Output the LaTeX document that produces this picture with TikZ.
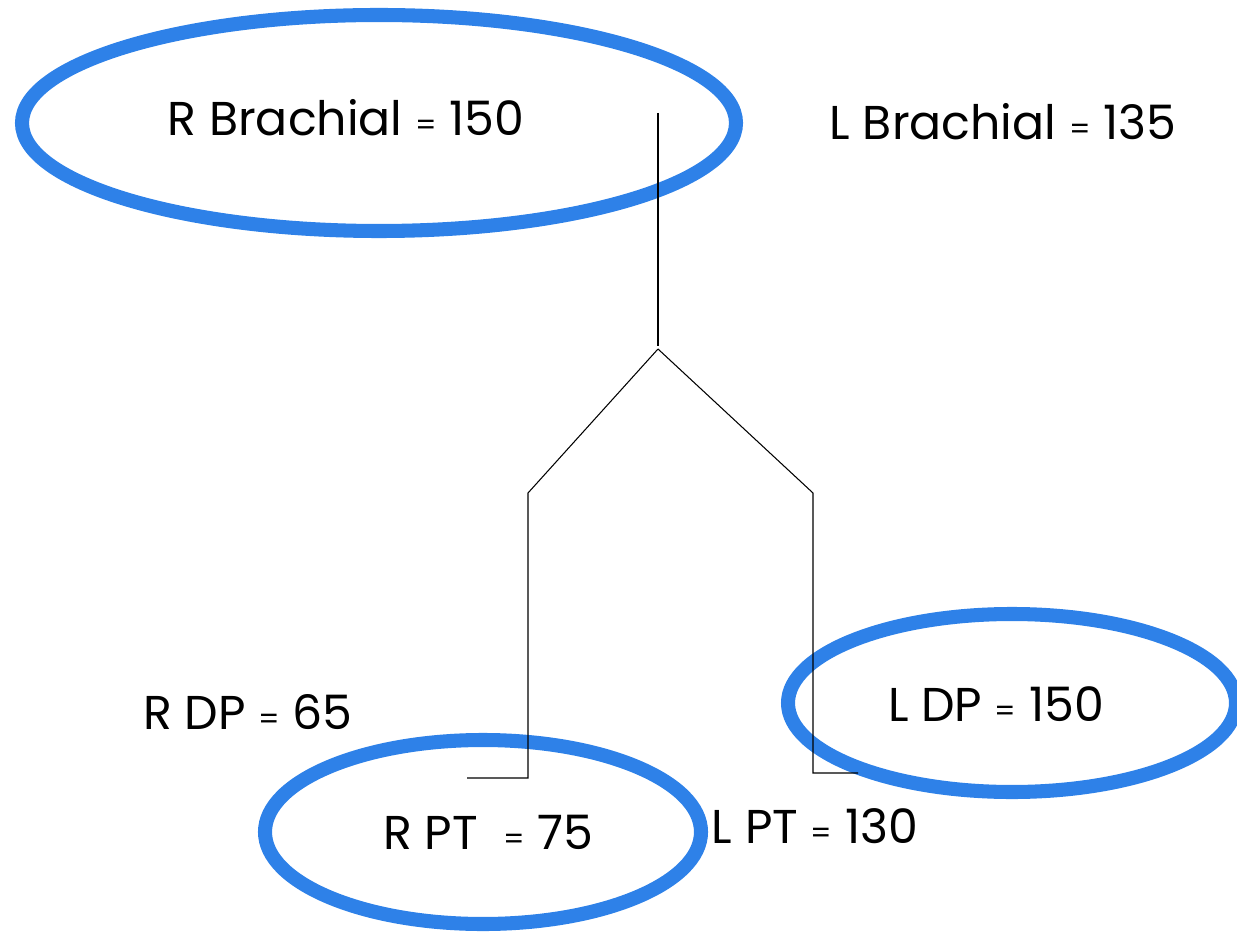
\documentclass[tikz,border=0pt]{standalone}
\usepackage{fontspec}
\setmainfont{Poppins}
\definecolor{ringblue}{RGB}{46,129,232}
\tikzset{
    ring/.style={draw=ringblue,line width=8pt},
    lbl/.style={font=\fontsize{27}{30}\selectfont,inner sep=0pt}
}
\newcommand{\eqs}{{\fontsize{17}{20}\selectfont=}}
\begin{document}
\begin{tikzpicture}[x=0.02cm,y=-0.02cm]
                \useasboundingbox (0,0) rectangle (1237,932);
                \draw[ring] (379,123) ellipse (357 and 108);
                \draw[ring] (1012,703) ellipse (224 and 89);
                \draw[ring] (483,832) ellipse (218 and 92);
                \coordinate (top) at (658,113);
                \coordinate (mid) at (658,346);
                \coordinate (fork) at (658,349);
                \coordinate (rbend) at (528,493);
                \coordinate (rfoot) at (528,778);
                \coordinate (rend) at (467,778);
                \coordinate (lbend) at (813,493);
                \coordinate (lfoot) at (813,773);
                \coordinate (lend) at (858,773);
                \draw[line width=1.1pt] (top) -- (mid);
                \draw[line width=0.6pt] (fork) -- (rbend) -- (rfoot) -- (rend);
                \draw[line width=0.6pt] (fork) -- (lbend) -- (lfoot) -- (lend);
                \node[lbl] (rbrach) at (346,118) {R Brachial \eqs{} 150};
                \node[lbl] (lbrach) at (1003,122) {L Brachial \eqs{} 135};
                \node[lbl] (rdp) at (248,712) {R DP \eqs{} 65};
                \node[lbl] (ldp) at (996,704) {L DP \eqs{} 150};
                \node[lbl] (rpt) at (488,832) {R PT \ \eqs{} 75};
                \node[lbl] (lpt) at (815,826) {L PT \eqs{} 130};
            \end{tikzpicture}
\end{document}
